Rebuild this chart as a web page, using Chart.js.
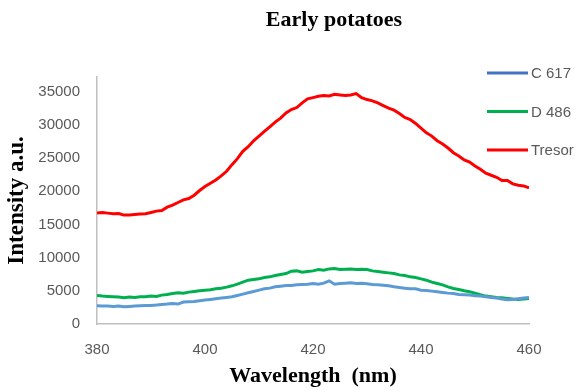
<!DOCTYPE html>
<html>
<head>
<meta charset="utf-8">
<script src="https://cdn.jsdelivr.net/npm/chart.js@4.4.1/dist/chart.umd.min.js"></script>
<style>
  html, body { margin: 0; padding: 0; background: #ffffff; }
  #wrap { width: 578px; height: 390px; position: relative; }
</style>
</head>
<body>
<div id="wrap"><canvas id="c" width="578" height="390"></canvas></div>
<script>
const chartTitle = "Early potatoes";
const xAxisTitle = "Wavelength  (nm)";
const yAxisTitle = "Intensity a.u.";

const wavelengths = [];
for (let w = 380; w <= 460; w++) wavelengths.push(w);

const yTickValues = [0, 5000, 10000, 15000, 20000, 25000, 30000, 35000];
const xTickValues = [380, 400, 420, 440, 460];

const seriesNames = ["C 617", "D 486", "Tresor"];

const c617 = [2750, 2700, 2700, 2650, 2700, 2600, 2650, 2700, 2750, 2800,
  2800, 2850, 2950, 3000, 3100, 3000, 3300, 3350, 3400, 3500,
  3600, 3700, 3800, 3900, 4000, 4100, 4300, 4500, 4700, 4900,
  5100, 5300, 5400, 5600, 5700, 5800, 5800, 5900, 5950, 6000,
  6100, 6000, 6150, 6500, 6000, 6100, 6150, 6200, 6100, 6150,
  6050, 5950, 5900, 5850, 5750, 5600, 5500, 5400, 5300, 5300,
  5100, 5050, 4950, 4850, 4750, 4650, 4600, 4450, 4400, 4350,
  4250, 4200, 4100, 4000, 3900, 3750, 3650, 3700, 3800, 3900, 4000];

const d486 = [4300, 4200, 4150, 4100, 4050, 3950, 4050, 4000, 4100, 4100,
  4200, 4150, 4350, 4450, 4600, 4700, 4650, 4800, 4900, 5000,
  5100, 5150, 5300, 5400, 5550, 5750, 6000, 6300, 6600, 6700,
  6800, 7000, 7100, 7300, 7450, 7600, 7950, 8000, 7800, 7900,
  8000, 8200, 8100, 8300, 8350, 8200, 8250, 8300, 8200, 8250,
  8200, 8000, 7900, 7800, 7700, 7600, 7400, 7300, 7100, 7000,
  6800, 6600, 6300, 6100, 5900, 5600, 5350, 5200, 5000, 4850,
  4650, 4400, 4200, 4100, 4000, 3950, 3850, 3750, 3700, 3750, 3850];

const tresor = [16700, 16800, 16700, 16600, 16650, 16400, 16400, 16500, 16550, 16600,
  16800, 17000, 17100, 17600, 17900, 18300, 18700, 18900, 19400, 20100,
  20700, 21200, 21700, 22300, 23000, 24000, 24900, 26000, 26700, 27600,
  28300, 29000, 29700, 30400, 31000, 31800, 32300, 32600, 33300, 33900,
  34100, 34300, 34400, 34350, 34600, 34500, 34400, 34500, 34700, 34100,
  33800, 33600, 33300, 32900, 32500, 32200, 31700, 31100, 30800, 30200,
  29500, 28800, 28300, 27600, 27100, 26500, 25800, 25300, 24700, 24400,
  23800, 23300, 22700, 22400, 22100, 21600, 21600, 21100, 20900, 20800, 20500];

function pts(vals) { return vals.map((v, i) => ({ x: wavelengths[i], y: v })); }

const lineColors = ["#5B9BD5", "#00B050", "#FF0000"];
const legendColors = ["#4472C4", "#00B050", "#FF0000"];

const titlePlugin = {
  id: 'customTitle',
  afterDraw(chart) {
    const ctx = chart.ctx;
    ctx.save();
    ctx.font = "bold 22px 'Liberation Serif', 'Times New Roman', serif";
    ctx.fillStyle = "#000000";
    ctx.textAlign = "center";
    ctx.textBaseline = "alphabetic";
    ctx.fillText(chartTitle, 334, 26);
    ctx.restore();
  }
};

const legendPlugin = {
  id: 'customLegend',
  afterDraw(chart) {
    const ctx = chart.ctx;
    ctx.save();
    chart.data.datasets.forEach((ds, i) => {
      const y = 73 + i * 38.5;
      ctx.strokeStyle = legendColors[i];
      ctx.lineWidth = 3;
      ctx.lineCap = 'butt';
      ctx.beginPath();
      ctx.moveTo(487, y);
      ctx.lineTo(528, y);
      ctx.stroke();
      ctx.font = "15px 'Liberation Sans', Arial, sans-serif";
      ctx.fillStyle = "#595959";
      ctx.textAlign = "left";
      ctx.textBaseline = "middle";
      ctx.fillText(ds.label, 531, y + 1);
    });
    ctx.restore();
  }
};

new Chart(document.getElementById('c'), {
  type: 'line',
  data: {
    datasets: [
      { label: seriesNames[0], data: pts(c617), borderColor: lineColors[0], borderWidth: 3, pointRadius: 0, tension: 0, fill: false },
      { label: seriesNames[1], data: pts(d486), borderColor: lineColors[1], borderWidth: 3, pointRadius: 0, tension: 0, fill: false },
      { label: seriesNames[2], data: pts(tresor), borderColor: lineColors[2], borderWidth: 3, pointRadius: 0, tension: 0, fill: false }
    ]
  },
  options: {
    responsive: false,
    animation: false,
    devicePixelRatio: 1,
    layout: { padding: { top: 77, right: 49, bottom: 0, left: 0 } },
    plugins: {
      legend: { display: false },
      title: { display: false },
      tooltip: { enabled: false }
    },
    scales: {
      x: {
        type: 'linear',
        min: 380,
        max: 460,
        afterBuildTicks(scale) { scale.ticks = xTickValues.map(v => ({ value: v })); },
        afterFit(scale) { scale.height = 66; },
        grid: { display: false, drawTicks: false },
        border: { display: true, color: '#BFBFBF', width: 1.5 },
        ticks: {
          color: '#595959',
          font: { family: "'Liberation Sans', Arial, sans-serif", size: 15 },
          padding: 17,
          maxRotation: 0,
          callback: (v) => String(v)
        },
        title: {
          display: true,
          text: xAxisTitle,
          color: '#000000',
          font: { family: "'Liberation Serif', 'Times New Roman', serif", size: 22, weight: 'bold' },
          padding: { top: 0, bottom: 0 }
        }
      },
      y: {
        type: 'linear',
        min: 0,
        max: 37200,
        afterBuildTicks(scale) { scale.ticks = yTickValues.map(v => ({ value: v })); },
        afterFit(scale) { scale.width = 97; },
        grid: { display: false, drawTicks: false },
        border: { display: true, color: '#BFBFBF', width: 1.5 },
        ticks: {
          color: '#595959',
          font: { family: "'Liberation Sans', Arial, sans-serif", size: 15 },
          padding: 17,
          callback: (v) => String(v)
        },
        title: {
          display: true,
          text: yAxisTitle,
          color: '#000000',
          font: { family: "'Liberation Serif', 'Times New Roman', serif", size: 23, weight: 'bold' },
          padding: { top: 3, bottom: 0 }
        }
      }
    }
  },
  plugins: [titlePlugin, legendPlugin]
});
</script>
</body>
</html>
